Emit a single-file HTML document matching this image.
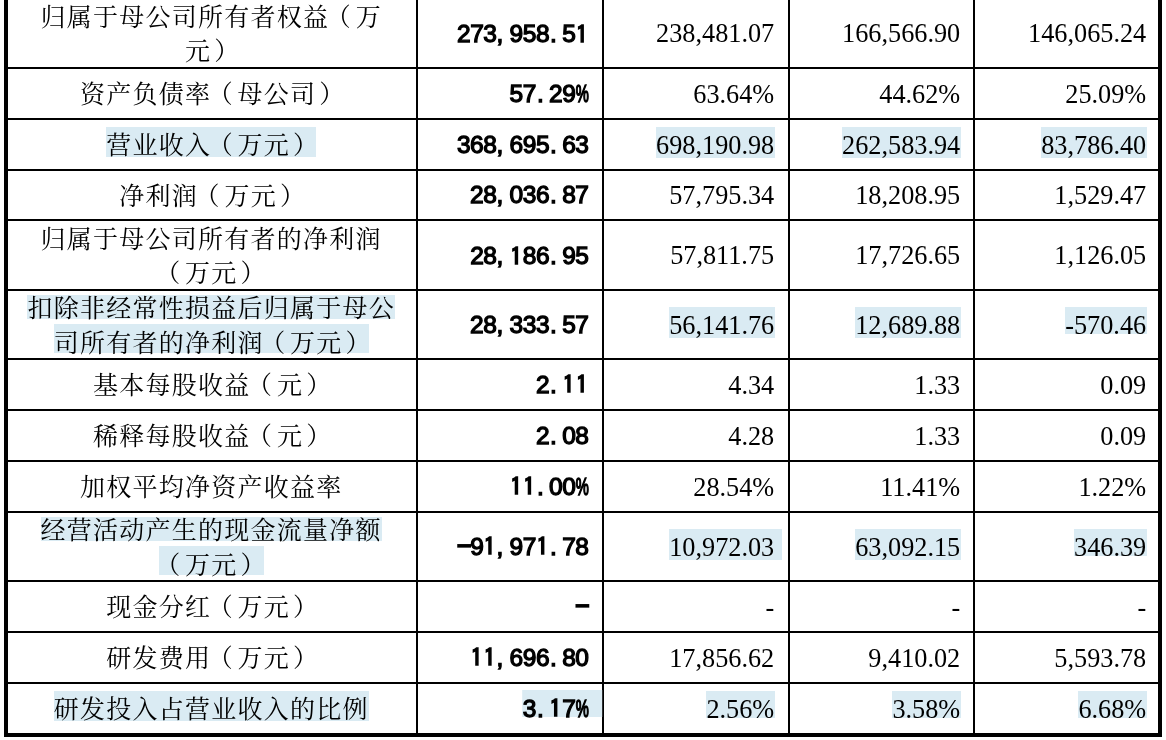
<!DOCTYPE html>
<html lang="zh-CN">
<head>
<meta charset="utf-8">
<title>主要财务指标</title>
<style>
html{background:#fff;}
html,body{margin:0;padding:0;}
body{width:1166px;height:740px;position:relative;overflow:hidden;color:#000;
 font-family:"Liberation Serif","Noto Serif CJK SC",serif;font-size:26.25px;}
.ln{position:absolute;background:#000;}
.c{position:absolute;z-index:0;display:flex;align-items:center;white-space:pre;}
.c1{justify-content:center;text-align:center;font-family:"Liberation Serif","Noto Serif CJK SC",serif;font-size:25px;letter-spacing:1.25px;line-height:34.2px;left:7.25px;width:408px;}
.c1>div{position:relative;top:2px;}
.n{justify-content:flex-end;line-height:30px;}
.n>span{top:1.1px;}
.b{font-family:"Liberation Sans","Noto Sans CJK SC",sans-serif;font-weight:normal;-webkit-text-stroke:1.3px #000;font-size:24.5px;letter-spacing:-0.47px;transform:translate(0.2px,0px);}
.b>span{top:0;}
.b u{text-decoration:none;display:inline-block;width:13.15px;letter-spacing:0;text-align:left;white-space:nowrap;}
.b u.pc{-webkit-text-stroke:1.6px #000;transform:translateX(0.6px) scaleX(.6);transform-origin:0 50%;}
.b u.d{padding-left:1px;width:12.15px}
.b u.m{-webkit-text-stroke:1.9px #000;position:relative;top:-0.6px;}
.b u.o{font-family:"IPAGothic","Liberation Sans",sans-serif;font-size:24.4px;line-height:1;position:relative;top:0.5px;left:0.3px;-webkit-text-stroke:1.45px #000;}
span{position:relative;display:inline-block;}
b{font-weight:normal;position:relative;}
b.pl{left:-3.5px;}
b.pr{left:3px;}
.h i{position:absolute;left:0;right:0;background:#daebf3;z-index:-1;}
.n .h i{top:-3.6px;height:30.6px;right:-1.2px;}
.n .h.s i{height:26.6px;}
.n .h.x i{right:-7.8px;}
.b.last .h i{top:-3.3px;height:26.7px;left:-0.3px;right:-13.5px;}
.c1 .h i{top:-2.1px;height:29.3px;}
.c1 .h.l1 i{top:3px;height:24.2px;}
.c1 .h.l2 i{top:-2.6px;height:29.5px;}
</style>
</head>
<body>

<div class="ln" style="left:4px;top:0;width:4px;height:737px"></div>
<div class="ln" style="left:1158px;top:0;width:4px;height:737px"></div>
<div class="ln" style="left:4px;top:733px;width:1158px;height:4px"></div>
<div class="ln" style="left:416px;top:0;width:2px;height:735px"></div>
<div class="ln" style="left:602px;top:0;width:2px;height:735px"></div>
<div class="ln" style="left:788px;top:0;width:2px;height:735px"></div>
<div class="ln" style="left:973px;top:0;width:2px;height:735px"></div>
<div class="ln" style="left:6px;top:67px;width:1154px;height:2px"></div>
<div class="ln" style="left:6px;top:118px;width:1154px;height:2px"></div>
<div class="ln" style="left:6px;top:169px;width:1154px;height:2px"></div>
<div class="ln" style="left:6px;top:219px;width:1154px;height:2px"></div>
<div class="ln" style="left:6px;top:289px;width:1154px;height:2px"></div>
<div class="ln" style="left:6px;top:358px;width:1154px;height:2px"></div>
<div class="ln" style="left:6px;top:409px;width:1154px;height:2px"></div>
<div class="ln" style="left:6px;top:460px;width:1154px;height:2px"></div>
<div class="ln" style="left:6px;top:511px;width:1154px;height:2px"></div>
<div class="ln" style="left:6px;top:580px;width:1154px;height:2px"></div>
<div class="ln" style="left:6px;top:631px;width:1154px;height:2px"></div>
<div class="ln" style="left:6px;top:682px;width:1154px;height:2px"></div>
<div class="c c1" style="top:-1px;height:68px"><div><span>归属于母公司所有者权益<b class="pl">（</b>万</span><br><span>元<b class="pr">）</b></span></div></div>
<div class="c n b" style="top:0.4px;height:68px;left:418px;width:170.3px"><span>273<u>,</u>958<u class="d">.</u>5<u class="o">1</u></span></div>
<div class="c n" style="top:-1px;height:68px;left:604px;width:170.2px"><span>238,481.07</span></div>
<div class="c n" style="top:-1px;height:68px;left:790px;width:170.2px"><span>166,566.90</span></div>
<div class="c n" style="top:-1px;height:68px;left:975px;width:171.2px"><span>146,065.24</span></div>
<div class="c c1" style="top:69px;height:49px"><div><span>资产负债率<b class="pl">（</b>母公司<b class="pr">）</b></span></div></div>
<div class="c n b" style="top:69px;height:49px;left:418px;width:170.3px"><span>57<u class="d">.</u>29<u class="pc">%</u></span></div>
<div class="c n" style="top:69px;height:49px;left:604px;width:170.2px"><span>63.64%</span></div>
<div class="c n" style="top:69px;height:49px;left:790px;width:170.2px"><span>44.62%</span></div>
<div class="c n" style="top:69px;height:49px;left:975px;width:171.2px"><span>25.09%</span></div>
<div class="c c1" style="top:120px;height:49px"><div><span class="h"><i></i>营业收入<b class="pl">（</b>万元<b class="pr">）</b></span></div></div>
<div class="c n b" style="top:120px;height:49px;left:418px;width:170.3px"><span>368<u>,</u>695<u class="d">.</u>63</span></div>
<div class="c n" style="top:120px;height:49px;left:604px;width:170.2px"><span class="h"><i></i>698,190.98</span></div>
<div class="c n" style="top:120px;height:49px;left:790px;width:170.2px"><span class="h"><i></i>262,583.94</span></div>
<div class="c n" style="top:120px;height:49px;left:975px;width:171.2px"><span class="h"><i></i>83,786.40</span></div>
<div class="c c1" style="top:171px;height:48px"><div><span>净利润<b class="pl">（</b>万元<b class="pr">）</b></span></div></div>
<div class="c n b" style="top:171px;height:48px;left:418px;width:170.3px"><span>28<u>,</u>036<u class="d">.</u>87</span></div>
<div class="c n" style="top:171px;height:48px;left:604px;width:170.2px"><span>57,795.34</span></div>
<div class="c n" style="top:171px;height:48px;left:790px;width:170.2px"><span>18,208.95</span></div>
<div class="c n" style="top:171px;height:48px;left:975px;width:171.2px"><span>1,529.47</span></div>
<div class="c c1" style="top:221px;height:68px"><div><span>归属于母公司所有者的净利润</span><br><span><b class="pl">（</b>万元<b class="pr">）</b></span></div></div>
<div class="c n b" style="top:222.4px;height:68px;left:418px;width:170.3px"><span>28<u>,</u><u class="o">1</u>86<u class="d">.</u>95</span></div>
<div class="c n" style="top:221px;height:68px;left:604px;width:170.2px"><span>57,811.75</span></div>
<div class="c n" style="top:221px;height:68px;left:790px;width:170.2px"><span>17,726.65</span></div>
<div class="c n" style="top:221px;height:68px;left:975px;width:171.2px"><span>1,126.05</span></div>
<div class="c c1" style="top:291px;height:67px"><div><span class="h l1"><i></i>扣除非经常性损益后归属于母公</span><br><span class="h l2"><i></i>司所有者的净利润<b class="pl">（</b>万元<b class="pr">）</b></span></div></div>
<div class="c n b" style="top:291.6px;height:67px;left:418px;width:170.3px"><span>28<u>,</u>333<u class="d">.</u>57</span></div>
<div class="c n" style="top:291px;height:67px;left:604px;width:170.2px"><span class="h"><i></i>56,141.76</span></div>
<div class="c n" style="top:291px;height:67px;left:790px;width:170.2px"><span class="h"><i></i>12,689.88</span></div>
<div class="c n" style="top:291px;height:67px;left:975px;width:171.2px"><span class="h s"><i></i>-570.46</span></div>
<div class="c c1" style="top:360px;height:49px"><div><span>基本每股收益<b class="pl">（</b>元<b class="pr">）</b></span></div></div>
<div class="c n b" style="top:360px;height:49px;left:418px;width:170.3px"><span>2<u class="d">.</u><u class="o">1</u><u class="o">1</u></span></div>
<div class="c n" style="top:360px;height:49px;left:604px;width:170.2px"><span>4.34</span></div>
<div class="c n" style="top:360px;height:49px;left:790px;width:170.2px"><span>1.33</span></div>
<div class="c n" style="top:360px;height:49px;left:975px;width:171.2px"><span>0.09</span></div>
<div class="c c1" style="top:411px;height:49px"><div><span>稀释每股收益<b class="pl">（</b>元<b class="pr">）</b></span></div></div>
<div class="c n b" style="top:411px;height:49px;left:418px;width:170.3px"><span>2<u class="d">.</u>08</span></div>
<div class="c n" style="top:411px;height:49px;left:604px;width:170.2px"><span>4.28</span></div>
<div class="c n" style="top:411px;height:49px;left:790px;width:170.2px"><span>1.33</span></div>
<div class="c n" style="top:411px;height:49px;left:975px;width:171.2px"><span>0.09</span></div>
<div class="c c1" style="top:462px;height:49px"><div><span>加权平均净资产收益率</span></div></div>
<div class="c n b" style="top:462px;height:49px;left:418px;width:170.3px"><span><u class="o">1</u><u class="o">1</u><u class="d">.</u>00<u class="pc">%</u></span></div>
<div class="c n" style="top:462px;height:49px;left:604px;width:170.2px"><span>28.54%</span></div>
<div class="c n" style="top:462px;height:49px;left:790px;width:170.2px"><span>11.41%</span></div>
<div class="c n" style="top:462px;height:49px;left:975px;width:171.2px"><span>1.22%</span></div>
<div class="c c1" style="top:513px;height:67px"><div><span class="h l1"><i></i>经营活动产生的现金流量净额</span><br><span class="h l2"><i></i><b class="pl">（</b>万元<b class="pr">）</b></span></div></div>
<div class="c n b" style="top:513.4px;height:67px;left:418px;width:170.3px"><span><u class="m">−</u>9<u class="o">1</u><u>,</u>97<u class="o">1</u><u class="d">.</u>78</span></div>
<div class="c n" style="top:513px;height:67px;left:604px;width:170.2px"><span class="h x"><i></i>10,972.03</span></div>
<div class="c n" style="top:513px;height:67px;left:790px;width:170.2px"><span class="h"><i></i>63,092.15</span></div>
<div class="c n" style="top:513px;height:67px;left:975px;width:171.2px"><span class="h s"><i></i>346.39</span></div>
<div class="c c1" style="top:582px;height:49px"><div><span>现金分红<b class="pl">（</b>万元<b class="pr">）</b></span></div></div>
<div class="c n b" style="top:582px;height:49px;left:418px;width:170.3px"><span><u class="m">−</u></span></div>
<div class="c n" style="top:582px;height:49px;left:604px;width:170.2px"><span>-</span></div>
<div class="c n" style="top:582px;height:49px;left:790px;width:170.2px"><span>-</span></div>
<div class="c n" style="top:582px;height:49px;left:975px;width:171.2px"><span>-</span></div>
<div class="c c1" style="top:633px;height:49px"><div><span>研发费用<b class="pl">（</b>万元<b class="pr">）</b></span></div></div>
<div class="c n b" style="top:633px;height:49px;left:418px;width:170.3px"><span><u class="o">1</u><u class="o">1</u><u>,</u>696<u class="d">.</u>80</span></div>
<div class="c n" style="top:633px;height:49px;left:604px;width:170.2px"><span>17,856.62</span></div>
<div class="c n" style="top:633px;height:49px;left:790px;width:170.2px"><span>9,410.02</span></div>
<div class="c n" style="top:633px;height:49px;left:975px;width:171.2px"><span>5,593.78</span></div>
<div class="c c1" style="top:684px;height:49px"><div><span class="h"><i></i>研发投入占营业收入的比例</span></div></div>
<div class="c n b last" style="top:684px;height:49px;left:418px;width:170.3px"><span class="h s"><i></i>3<u class="d">.</u><u class="o">1</u>7<u class="pc">%</u></span></div>
<div class="c n last" style="top:684px;height:49px;left:604px;width:170.2px"><span class="h s"><i></i>2.56%</span></div>
<div class="c n last" style="top:684px;height:49px;left:790px;width:170.2px"><span class="h s"><i></i>3.58%</span></div>
<div class="c n last" style="top:684px;height:49px;left:975px;width:171.2px"><span class="h s"><i></i>6.68%</span></div>
</body>
</html>
